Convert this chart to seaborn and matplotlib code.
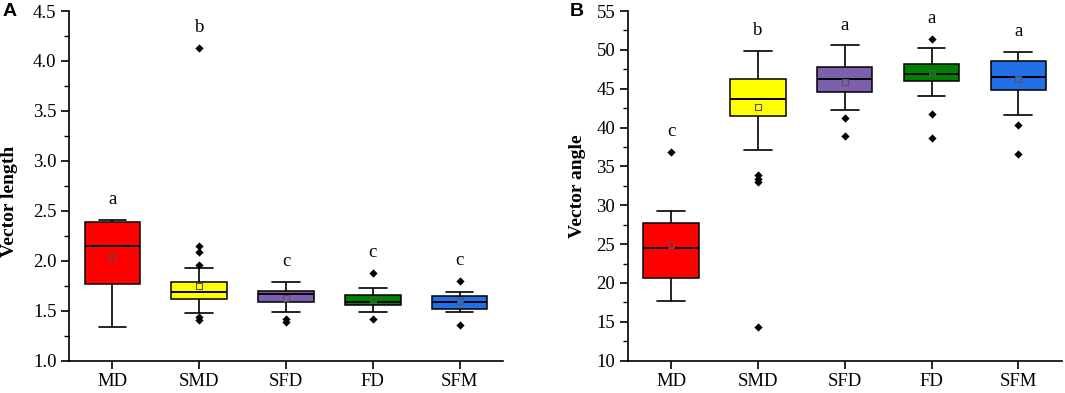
import numpy as np
import pandas as pd
import matplotlib
matplotlib.use("Agg")
import matplotlib.pyplot as plt
import seaborn as sns
from matplotlib.ticker import MultipleLocator, FormatStrFormatter

# ---------------- data ----------------
groups = ["MD", "SMD", "SFD", "FD", "SFM"]
colors = ["#FF0000", "#FFFF00", "#7E5FAE", "#008000", "#2270E6"]

# Panel A: vector length
len_whislo = [1.34, 1.477, 1.49, 1.483, 1.483]
len_q1     = [1.77, 1.613, 1.587, 1.557, 1.517]
len_med    = [2.143, 1.683, 1.663, 1.59, 1.59]
len_q3     = [2.39, 1.783, 1.697, 1.657, 1.643]
len_whishi = [2.41, 1.927, 1.79, 1.723, 1.69]
len_mean   = [2.04, 1.75, 1.627, 1.61, 1.593]
len_out_groups = ["SMD", "SMD", "SMD", "SMD", "SMD", "SMD", "SFD", "SFD", "FD", "FD", "SFM", "SFM"]
len_out_values = [4.127, 2.15, 2.083, 1.96, 1.44, 1.403, 1.417, 1.383, 1.873, 1.417, 1.80, 1.36]
len_letters = ["a", "b", "c", "c", "c"]
len_letter_y = [2.61, 4.33, 1.99, 2.08, 2.0]

# Panel B: vector angle
ang_whislo = [17.64, 37.15, 42.26, 44.02, 41.57]
ang_q1     = [20.64, 41.45, 44.62, 45.95, 44.8]
ang_med    = [24.46, 43.67, 46.29, 46.89, 46.51]
ang_q3     = [27.72, 46.25, 47.75, 48.18, 48.56]
ang_whishi = [29.26, 49.85, 50.58, 50.2, 49.72]
ang_mean   = [24.92, 42.64, 45.82, 47.02, 46.25]
ang_out_groups = ["MD", "SMD", "SMD", "SMD", "SMD", "SFD", "SFD", "FD", "FD", "FD", "SFM", "SFM"]
ang_out_values = [36.81, 33.9, 33.38, 32.95, 14.37, 41.19, 38.91, 51.36, 41.7, 38.62, 40.33, 36.6]
ang_letters = ["c", "b", "a", "a", "a"]
ang_letter_y = [39.47, 52.47, 53.07, 54.0, 52.3]

# ---------------- style ----------------
sns.set_style("ticks")
plt.rcParams["font.family"] = ["Liberation Serif", "DejaVu Serif"]
plt.rcParams["axes.linewidth"] = 1.2
plt.rcParams["xtick.major.width"] = 1.2
plt.rcParams["ytick.major.width"] = 1.2
plt.rcParams["ytick.minor.width"] = 1.0
plt.rcParams["xtick.color"] = "black"
plt.rcParams["ytick.color"] = "black"
plt.rcParams["xtick.labelcolor"] = "black"
plt.rcParams["ytick.labelcolor"] = "black"
plt.rcParams["axes.edgecolor"] = "black"
plt.rcParams["axes.labelcolor"] = "black"
plt.rcParams["text.color"] = "black"

W, H = 1065, 393
fig = plt.figure(figsize=(W / 100, H / 100), dpi=100)
axA = fig.add_axes([69 / W, 1 - 360.7 / H, 434 / W, 349.7 / H])
axB = fig.add_axes([627.7 / W, 1 - 360.7 / H, 434 / W, 349.7 / H])

palette = dict(zip(groups, colors))


def build_box_frame(lo, q1, med, q3, hi):
    rows = []
    for i, g in enumerate(groups):
        for v in (lo[i], q1[i], med[i], q3[i], hi[i]):
            rows.append({"group": g, "value": v})
    return pd.DataFrame(rows)


def draw_panel(ax, lo, q1, med, q3, hi, means, og, ov, letters, ly,
               ylim, major, minor, fmt, ylabel, label_xy):
    df = build_box_frame(lo, q1, med, q3, hi)
    sns.boxplot(data=df, x="group", y="value", hue="group", order=groups,
                hue_order=groups, palette=palette, legend=False, ax=ax,
                width=0.64, whis=np.inf, showfliers=False, saturation=1,
                linecolor="black", linewidth=1.1,
                medianprops=dict(color="black", linewidth=1.4),
                whiskerprops=dict(color="black", linewidth=1.2),
                capprops=dict(color="black", linewidth=1.2))
    dfo = pd.DataFrame({"group": og, "value": ov})
    sns.stripplot(data=dfo, x="group", y="value", order=groups, jitter=False,
                  marker="D", color="black", size=4.2, linewidth=0, ax=ax)
    dfm = pd.DataFrame({"group": groups, "value": means})
    sns.stripplot(data=dfm, x="group", y="value", hue="group", order=groups,
                  hue_order=groups, palette=palette, legend=False, jitter=False,
                  marker="s", size=4, linewidth=0.8, edgecolor="#555555", ax=ax)
    for i, (t, y) in enumerate(zip(letters, ly)):
        ax.text(i, y, t, ha="center", va="center", fontsize=13.5, color="black")
    ax.set_xlim(-0.5, 4.5)
    ax.set_ylim(*ylim)
    ax.yaxis.set_major_locator(MultipleLocator(major))
    ax.yaxis.set_minor_locator(MultipleLocator(minor))
    ax.yaxis.set_major_formatter(FormatStrFormatter(fmt))
    ax.tick_params(axis="both", which="major", direction="out", length=6,
                   labelsize=13.5, pad=3, colors="black")
    ax.tick_params(axis="y", which="minor", direction="out", length=3.5,
                   colors="black")
    ax.set_xlabel("")
    ax.set_ylabel(ylabel, fontsize=14, fontweight="bold", color="black")
    ax.yaxis.set_label_coords(*label_xy)
    sns.despine(ax=ax)


draw_panel(axA, len_whislo, len_q1, len_med, len_q3, len_whishi, len_mean,
           len_out_groups, len_out_values, len_letters, len_letter_y,
           (1.0, 4.5), 0.5, 0.25, "%.1f", "Vector length", (-0.1175, 0.455))
draw_panel(axB, ang_whislo, ang_q1, ang_med, ang_q3, ang_whishi, ang_mean,
           ang_out_groups, ang_out_values, ang_letters, ang_letter_y,
           (10, 55), 5, 2.5, "%d", "Vector angle", (-0.096, 0.5))

panel_font = dict(fontsize=14, fontweight="bold", va="center", ha="left",
                  color="black", family=["Liberation Sans", "DejaVu Sans"])
fig.text(3 / W, 1 - 12 / H, "A", **panel_font)
fig.text(570 / W, 1 - 12 / H, "B", **panel_font)

fig.savefig("out.png", dpi=100)
